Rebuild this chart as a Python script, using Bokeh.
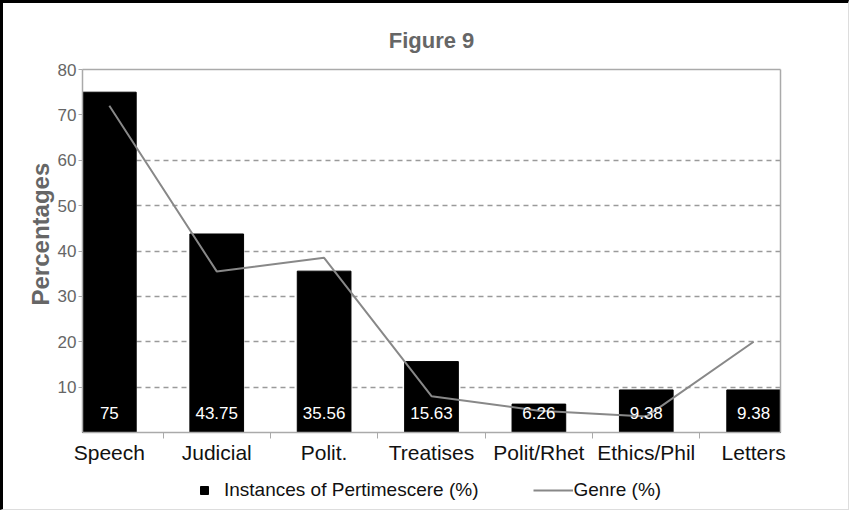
from bokeh.plotting import figure
from bokeh.models import (ColumnDataSource, Range1d, FixedTicker, LabelSet,
                          Legend, LegendItem, Title, LinearAxis)
from bokeh.core.properties import value
from bokeh.embed import file_html
from bokeh.resources import INLINE

categories = ["Speech", "Judicial", "Polit.", "Treatises", "Polit/Rhet", "Ethics/Phil", "Letters"]
instances = [75, 43.75, 35.56, 15.63, 6.26, 9.38, 9.38]
instance_labels = ["75", "43.75", "35.56", "15.63", "6.26", "9.38", "9.38"]
genre = [72, 35.5, 38.5, 8, 4.8, 3.5, 20]
y_ticks = [10, 20, 30, 40, 50, 60, 70, 80]
grid_ticks = [10, 20, 30, 40, 50, 60]

idx = list(range(len(categories)))
src = ColumnDataSource(dict(x=idx, inst=instances, half=[v / 2 for v in instances],
                            lab=instance_labels, genre=genre, zero=[0] * len(idx)))

FONT = "Liberation Sans"
AX = "#aaaaaa"

# canvas geometry (pixels)
W, H = 849, 510
TOP, LEFT, RIGHT, BOTTOM = 50, 50, 43, 4
BOX_L, BOX_R = 79, 777          # plot box left/right (canvas px)
BOX_T, ZERO_PX = 66, 429        # canvas rows of the values 80 and 0
Y_MAX = 80
X_LO, X_HI = -0.25, len(categories) - 0.75

ppu_x = (BOX_R - BOX_L) / (X_HI - X_LO)
ppu_y = (ZERO_PX - BOX_T) / Y_MAX
x_start = X_LO - (BOX_L - LEFT) / ppu_x
x_end = X_HI + ((W - RIGHT) - BOX_R) / ppu_x
y_min = -((H - BOTTOM) - ZERO_PX) / ppu_y
y_top = Y_MAX + (BOX_T - TOP) / ppu_y

p = figure(width=W, height=H, output_backend="svg", toolbar_location=None,
           x_range=Range1d(x_start, x_end), y_range=Range1d(y_min, y_top),
           min_border_left=LEFT, min_border_right=RIGHT, min_border_top=TOP,
           min_border_bottom=BOTTOM)
p.styles = {"border-left": "3px solid black", "border-top": "3px solid black",
            "border-right": "1px solid #dddddd", "border-bottom": "1px solid #dddddd"}

p.title = Title(text="Figure 9", align="center", text_font=FONT, text_font_size="22px",
                text_font_style="bold", text_color="#666666", standoff=1)

p.outline_line_color = None
p.background_fill_color = "white"
p.border_fill_color = "white"

# grid
p.xgrid.visible = False
g = p.ygrid[0]
if "cross_bounds" in g.properties():
    g.ticker = FixedTicker(ticks=grid_ticks)
    g.grid_line_color = "#9a9a9a"
    g.grid_line_dash = "5 4"
    g.grid_line_width = 1.5
    g.cross_bounds = (X_LO, X_HI)
else:
    g.visible = False
    p.segment(x0=[X_LO] * len(grid_ticks), x1=[X_HI] * len(grid_ticks),
              y0=grid_ticks, y1=grid_ticks, line_color="#9a9a9a",
              line_dash="5 4", line_width=1.5)

# y axis, pinned at the left edge of the plot box
p.yaxis.fixed_location = X_LO
p.yaxis.ticker = FixedTicker(ticks=y_ticks)
p.yaxis.bounds = (0, Y_MAX)
p.yaxis.major_label_text_font = FONT
p.yaxis.major_label_text_font_size = "17px"
p.yaxis.major_label_text_color = "#666666"
p.yaxis.axis_line_color = AX
p.yaxis.axis_line_width = 1.5
p.yaxis.major_tick_line_color = AX
p.yaxis.major_tick_out = 4
p.yaxis.major_tick_in = 0
p.yaxis.minor_tick_line_color = None
p.yaxis.major_label_standoff = 2

ylabel = Title(text="Percentages", align="left", offset=204, standoff=0,
               text_font=FONT, text_font_size="24px", text_font_style="bold",
               text_color="#666666")
p.add_layout(ylabel, "left")

# x axis, pinned at the value 0
p.xaxis.fixed_location = 0
p.xaxis.bounds = (X_LO, X_HI)
p.xaxis.ticker = FixedTicker(ticks=idx, minor_ticks=[i + 0.5 for i in idx[:-1]])
p.xaxis.major_label_overrides = {i: c for i, c in zip(idx, categories)}
p.xaxis.major_label_text_font = FONT
p.xaxis.major_label_text_font_size = "21px"
p.xaxis.major_label_text_color = "#111111"
p.xaxis.major_tick_line_color = None
p.xaxis.major_tick_out = 0
p.xaxis.major_tick_in = 0
p.xaxis.minor_tick_line_color = AX
p.xaxis.minor_tick_out = 6
p.xaxis.minor_tick_in = 0
p.xaxis.axis_line_color = AX
p.xaxis.axis_line_width = 1.5
p.xaxis.major_label_standoff = 2

# plot-box edges at top (80) and right
top_axis = LinearAxis(ticker=FixedTicker(ticks=[]), fixed_location=Y_MAX, bounds=(X_LO, X_HI),
                      axis_line_color=AX, axis_line_width=1.5,
                      major_tick_line_color=None, minor_tick_line_color=None)
right_axis = LinearAxis(ticker=FixedTicker(ticks=[]), fixed_location=X_HI, bounds=(0, Y_MAX),
                        axis_line_color=AX, axis_line_width=1.5,
                        major_tick_line_color=None, minor_tick_line_color=None)
p.add_layout(top_axis, "above")
p.add_layout(right_axis, "right")

# legend proxy square, hidden inside the bars
proxy = p.scatter(x="x", y="half", source=src, marker="square", size=17,
                  fill_color="black", line_color="black")

bars = p.vbar(x="x", top="inst", bottom=0, width=0.5, source=src,
              fill_color="black", line_color="black")

labels = LabelSet(x="x", y="zero", text="lab", source=src, y_offset=20,
                  text_align="center", text_baseline="middle",
                  text_color="white", text_font=value(FONT), text_font_size="17px")
p.add_layout(labels)

line = p.line(x="x", y="genre", source=src, line_color="#888888", line_width=2)

legend = Legend(items=[LegendItem(label="Instances of Pertimescere (%)", renderers=[proxy]),
                       LegendItem(label="Genre (%)", renderers=[line])],
                orientation="horizontal", location=(BOX_L - LEFT + 102, 8),
                label_text_font=FONT, label_text_font_size="19px", label_text_color="#111111",
                glyph_width=40, glyph_height=20, label_standoff=0, spacing=55,
                padding=0, margin=0, border_line_color=None, background_fill_alpha=0)
p.add_layout(legend)

open("out.html", "w").write(file_html(p, INLINE))
